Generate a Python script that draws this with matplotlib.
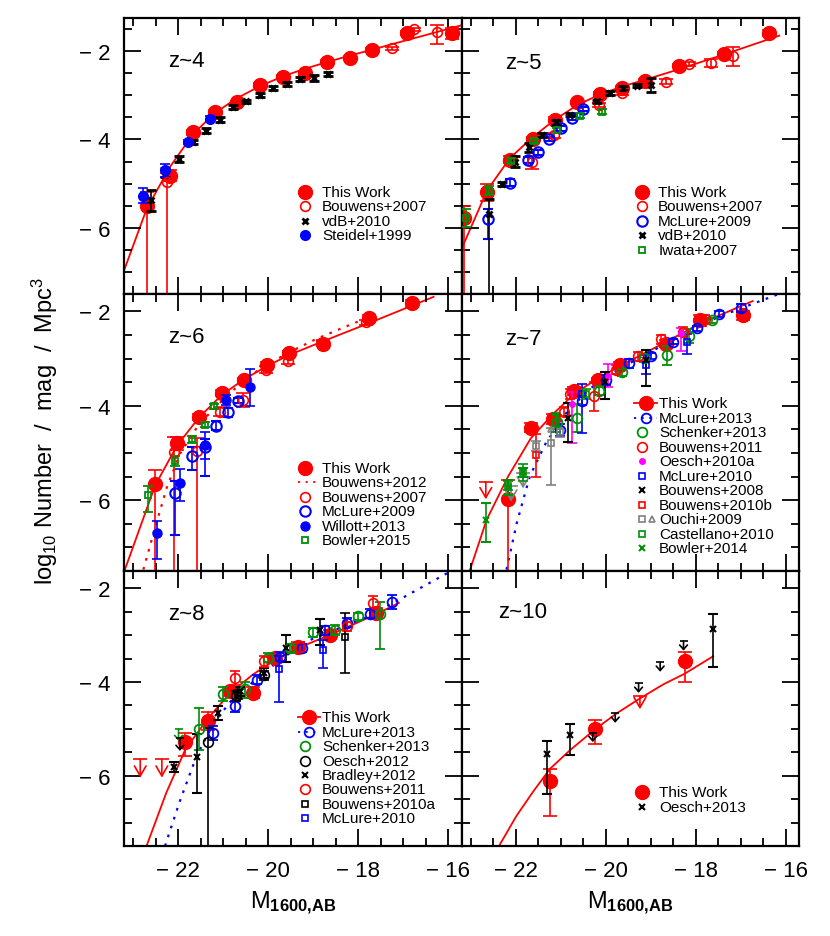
import matplotlib
matplotlib.use("Agg")
import matplotlib.pyplot as plt
from matplotlib.ticker import MultipleLocator, FuncFormatter

plt.rcParams['font.family'] = ['Liberation Sans', 'DejaVu Sans']
plt.rcParams['mathtext.fontset'] = 'custom'
plt.rcParams['mathtext.rm'] = 'Liberation Sans'
plt.rcParams['mathtext.it'] = 'Liberation Sans:italic'
plt.rcParams['mathtext.bf'] = 'Liberation Sans:bold'

# ---------------- z ~ 4 ----------------
z4_tw_m = [-22.70, -22.18, -21.66, -21.18, -20.70, -20.18, -19.67, -19.19, -18.70, -18.19, -17.70, -16.93, -15.93]
z4_tw_phi = [-5.50, -4.82, -3.84, -3.37, -3.16, -2.77, -2.59, -2.49, -2.25, -2.16, -1.97, -1.59, -1.60]
z4_tw_lo = [3.0, 0.12, 0.05, 0.04, 0.04, 0.04, 0.04, 0.04, 0.04, 0.04, 0.05, 0.05, 0.13]
z4_tw_hi = [0.3, 0.12, 0.05, 0.04, 0.04, 0.04, 0.04, 0.04, 0.04, 0.04, 0.05, 0.05, 0.13]
z4_b07_m = [-22.25, -17.25, -16.77, -16.25]
z4_b07_phi = [-4.97, -1.94, -1.51, -1.57]
z4_b07_lo = [3.0, 0.04, 0.03, 0.27]
z4_b07_hi = [0.2, 0.04, 0.03, 0.16]
z4_vdb_m = [-22.59, -22.29, -21.98, -21.66, -21.38, -21.08, -20.79, -20.49, -20.19, -19.90, -19.58, -19.29, -18.99, -18.68]
z4_vdb_phi = [-5.38, -4.74, -4.44, -4.06, -3.80, -3.55, -3.27, -3.14, -2.99, -2.84, -2.74, -2.63, -2.61, -2.52]
z4_vdb_err = [0.23, 0.1, 0.06, 0.05, 0.05, 0.05, 0.05, 0.04, 0.04, 0.04, 0.04, 0.05, 0.07, 0.05]
z4_s99_m = [-22.78, -22.29, -21.79, -21.29]
z4_s99_phi = [-5.27, -4.70, -4.06, -3.53]
z4_s99_err = [0.17, 0.15, 0.05, 0.05]
z4_fit_m = [-23.20, -22.70, -22.18, -21.66, -21.18, -20.70, -20.18, -19.67, -19.19, -18.70, -18.19, -17.70, -17.21, -16.70, -15.73]
z4_fit_phi = [-6.97, -5.58, -4.62, -3.87, -3.40, -3.07, -2.79, -2.57, -2.40, -2.25, -2.10, -1.97, -1.83, -1.69, -1.42]

# ---------------- z ~ 5 ----------------
z5_tw_m = [-23.16, -22.64, -22.13, -21.63, -21.13, -20.63, -20.13, -19.63, -19.13, -18.37, -17.38, -16.37]
z5_tw_phi = [-5.78, -5.19, -4.46, -3.99, -3.55, -3.16, -2.97, -2.84, -2.67, -2.33, -2.06, -1.59]
z5_tw_lo = [3.0, 0.2, 0.08, 0.05, 0.05, 0.04, 0.04, 0.04, 0.04, 0.04, 0.05, 0.07]
z5_tw_hi = [0.28, 0.17, 0.08, 0.05, 0.05, 0.04, 0.04, 0.04, 0.04, 0.04, 0.05, 0.07]
z5_b07_m = [-21.65, -21.16, -20.16, -19.65, -18.65, -18.15, -17.65, -17.17]
z5_b07_phi = [-4.50, -3.91, -3.22, -2.95, -2.69, -2.29, -2.27, -2.10]
z5_b07_lo = [0.17, 0.05, 0.05, 0.05, 0.05, 0.04, 0.1, 0.24]
z5_b07_hi = [0.13, 0.05, 0.05, 0.05, 0.05, 0.04, 0.1, 0.2]
z5_mc09_m = [-22.62, -22.13, -21.74, -21.50, -21.26, -21.00, -20.75, -20.50]
z5_mc09_phi = [-5.80, -4.98, -4.47, -4.29, -3.99, -3.75, -3.52, -3.31]
z5_mc09_lo = [0.45, 0.08, 0.07, 0.06, 0.05, 0.05, 0.05, 0.05]
z5_mc09_hi = [0.23, 0.08, 0.07, 0.06, 0.05, 0.05, 0.05, 0.05]
z5_vdb_m = [-22.61, -22.31, -22.01, -21.71, -21.41, -21.11, -20.80, -20.20, -19.91, -19.61, -19.30, -19.00]
z5_vdb_phi = [-5.68, -5.01, -4.50, -4.18, -3.90, -3.61, -3.44, -3.14, -2.95, -2.84, -2.78, -2.77]
z5_vdb_lo = [3.0, 0.05, 0.13, 0.1, 0.05, 0.06, 0.04, 0.04, 0.04, 0.04, 0.04, 0.15]
z5_vdb_hi = [0.33, 0.05, 0.13, 0.1, 0.05, 0.06, 0.04, 0.04, 0.04, 0.04, 0.04, 0.15]
z5_iw_m = [-23.11, -22.60, -22.11, -21.59, -21.09, -20.58, -20.09]
z5_iw_phi = [-5.78, -5.16, -4.48, -4.03, -3.78, -3.46, -3.37]
z5_iw_err = [0.2, 0.1, 0.05, 0.05, 0.05, 0.05, 0.05]
z5_fit_m = [-23.21, -22.64, -22.13, -21.63, -21.13, -20.63, -20.13, -19.63, -19.13, -18.37, -17.38, -16.14]
z5_fit_phi = [-6.48, -5.15, -4.42, -3.95, -3.55, -3.22, -2.98, -2.80, -2.65, -2.41, -2.08, -1.65]

# ---------------- z ~ 6 ----------------
z6_tw_m = [-22.51, -22.02, -21.53, -21.03, -20.54, -20.03, -19.53, -18.78, -17.77, -16.80]
z6_tw_phi = [-5.66, -4.79, -4.24, -3.73, -3.46, -3.13, -2.88, -2.68, -2.14, -1.83]
z6_tw_lo = [3.0, 0.15, 0.07, 0.06, 0.05, 0.05, 0.05, 0.05, 0.06, 0.07]
z6_tw_hi = [0.30, 0.13, 0.07, 0.06, 0.05, 0.05, 0.05, 0.05, 0.06, 0.07]
z6_b12_m = [-22.77, -22.51, -22.25, -21.96, -21.53, -21.01, -20.50, -19.98, -19.46, -18.95, -18.43, -17.92, -17.48]
z6_b12_phi = [-7.47, -6.58, -5.73, -5.02, -4.38, -3.88, -3.42, -3.10, -2.83, -2.59, -2.38, -2.18, -2.04]
z6_b07_m = [-22.08, -21.57, -21.07, -20.57, -20.06, -19.56, -18.78, -17.82]
z6_b07_phi = [-4.97, -4.96, -4.12, -3.87, -3.23, -3.04, -2.66, -2.23]
z6_b07_lo = [3.0, 3.0, 0.1, 0.15, 0.07, 0.07, 0.05, 0.05]
z6_b07_hi = [0.3, 0.28, 0.1, 0.15, 0.07, 0.07, 0.05, 0.05]
z6_mc09_m = [-22.06, -21.69, -21.41, -21.16, -20.90, -20.66]
z6_mc09_phi = [-5.85, -5.07, -4.88, -4.42, -4.14, -3.89]
z6_mc09_lo = [0.88, 0.28, 0.6, 0.1, 0.1, 0.06]
z6_mc09_hi = [0.26, 0.2, 0.18, 0.1, 0.1, 0.06]
z6_wil_m = [-22.46, -21.96, -21.41, -20.93, -20.41]
z6_wil_phi = [-6.69, -5.63, -4.83, -3.88, -3.61]
z6_wil_lo = [0.55, 0.38, 0.3, 0.1, 0.39]
z6_wil_hi = [0.26, 0.3, 0.28, 0.1, 0.39]
z6_bow_m = [-22.67, -22.06, -21.69, -21.41, -21.20]
z6_bow_phi = [-5.90, -5.17, -4.71, -4.40, -4.01]
z6_bow_lo = [0.36, 0.1, 0.08, 0.05, 0.05]
z6_bow_hi = [0.2, 0.1, 0.08, 0.05, 0.05]
z6_fit_m = [-23.18, -22.51, -22.03, -21.53, -21.03, -20.54, -20.03, -19.53, -18.78, -17.77, -16.33]
z6_fit_phi = [-7.47, -5.69, -4.85, -4.24, -3.77, -3.44, -3.16, -2.92, -2.63, -2.25, -1.69]

# ---------------- z ~ 7 ----------------
z7_tw_m = [-22.17, -21.67, -21.17, -20.70, -20.17, -19.69, -18.65, -17.91, -16.95]
z7_tw_phi = [-5.98, -4.46, -4.28, -3.68, -3.46, -3.13, -2.68, -2.19, -2.07]
z7_tw_lo = [3.0, 0.1, 0.1, 0.08, 0.06, 0.06, 0.08, 0.12, 0.12]
z7_tw_hi = [0.4, 0.1, 0.1, 0.08, 0.06, 0.06, 0.08, 0.12, 0.08]
z7_twlim_m = [-22.67]
z7_twlim_phi = [-5.61]
z7_fit_m = [-23.02, -22.65, -22.17, -21.67, -21.17, -20.67, -20.17, -19.67, -19.17, -18.69, -17.91, -16.73]
z7_fit_phi = [-7.47, -6.41, -5.49, -4.69, -4.17, -3.72, -3.42, -3.15, -2.90, -2.66, -2.26, -1.78]
z7_mc13_line_m = [-22.21, -21.98, -21.69, -21.33, -20.88, -20.36, -19.76, -19.02, -18.27, -17.53, -16.79, -16.12]
z7_mc13_line_phi = [-7.47, -6.48, -5.49, -4.78, -4.15, -3.64, -3.25, -2.86, -2.50, -2.13, -1.86, -1.62]
z7_mc13_m = [-21.01, -20.52, -19.99, -19.49, -18.99, -18.50, -17.98, -17.48, -16.99]
z7_mc13_phi = [-4.51, -3.89, -3.45, -3.10, -2.94, -2.64, -2.36, -2.05, -1.93]
z7_mc13_err = [0.12, 0.1, 0.1, 0.1, 0.06, 0.06, 0.06, 0.06, 0.08]
z7_sch_m = [-21.09, -20.64, -20.14, -19.64, -19.14, -18.64, -18.15, -17.64]
z7_sch_phi = [-4.35, -4.26, -3.68, -3.29, -2.99, -2.93, -2.52, -2.19]
z7_sch_err = [0.15, 0.3, 0.1, 0.08, 0.08, 0.2, 0.15, 0.06]
z7_b11_m = [-20.92, -20.79, -20.27, -19.77, -19.29, -18.78, -18.29, -17.79]
z7_b11_phi = [-4.12, -3.75, -3.80, -3.23, -2.95, -2.59, -2.43, -2.17]
z7_b11_err = [0.1, 0.1, 0.3, 0.1, 0.1, 0.1, 0.1, 0.1]
z7_oe10_m = [-20.76, -19.95, -18.33]
z7_oe10_phi = [-3.96, -3.36, -2.45]
z7_oe10_lo = [0.83, 0.25, 0.39]
z7_oe10_hi = [0.25, 0.25, 0.11]
z7_mc10_m = [-20.52, -19.10, -18.19]
z7_mc10_phi = [-3.75, -3.13, -2.65]
z7_mc10_lo = [0.83, 0.2, 0.25]
z7_mc10_hi = [0.21, 0.2, 0.18]
z7_b08_m = [-20.84, -20.02, -19.10]
z7_b08_phi = [-4.26, -3.50, -3.02]
z7_b08_lo = [0.5, 0.36, 0.57]
z7_b08_hi = [0.32, 0.21, 0.21]
z7_b10b_m = [-21.56]
z7_b10b_phi = [-5.05]
z7_b10b_err = [0.45]
z7_ou_m = [-21.56, -21.21, -21.01]
z7_ou_phi = [-4.85, -4.78, -4.56]
z7_ou_lo = [0.1, 0.9, 0.1]
z7_ou_hi = [0.1, 0.31, 0.1]
z7_outri_m = [-21.21]
z7_outri_phi = [-4.50]
z7_oulim_m = [-22.11, -21.84]
z7_oulim_phi = [-5.70, -5.42]
z7_cas_m = [-22.17, -21.84, -21.10, -20.44]
z7_cas_phi = [-5.69, -5.41, -4.36, -3.75]
z7_cas_err = [0.1, 0.18, 0.2, 0.1]
z7_bow_m = [-22.67, -22.17, -21.84]
z7_bow_phi = [-6.41, -5.73, -5.41]
z7_bow_lo = [0.47, 0.15, 0.1]
z7_bow_hi = [0.35, 0.15, 0.1]

# ---------------- z ~ 8 ----------------
z8_tw_m = [-21.84, -21.34, -20.84, -20.34, -19.84, -19.33, -18.62, -17.60]
z8_tw_phi = [-5.28, -4.83, -4.20, -4.23, -3.49, -3.25, -2.99, -2.53]
z8_tw_lo = [0.3, 0.2, 0.1, 0.12, 0.1, 0.1, 0.1, 0.12]
z8_tw_hi = [0.2, 0.2, 0.1, 0.12, 0.1, 0.1, 0.1, 0.12]
z8_twlim_m = [-22.84, -22.36]
z8_twlim_phi = [-5.65, -5.65]
z8_fit_m = [-22.70, -22.26, -21.84, -21.34, -20.84, -20.34, -19.84, -19.33, -18.62, -17.60, -17.10]
z8_fit_phi = [-7.50, -6.36, -5.44, -4.78, -4.23, -3.84, -3.52, -3.27, -2.99, -2.55, -2.31]
z8_mc13_line_m = [-22.29, -21.96, -21.59, -21.21, -20.77, -20.25, -19.73, -19.14, -18.55, -17.81, -17.07, -15.96]
z8_mc13_line_phi = [-7.50, -6.54, -5.58, -4.87, -4.34, -3.93, -3.52, -3.13, -2.90, -2.61, -2.23, -1.64]
z8_mc13_m = [-21.23, -20.73, -20.25, -19.73, -19.25, -18.73, -18.25, -17.75, -17.26]
z8_mc13_phi = [-5.08, -4.52, -3.95, -3.46, -3.27, -2.90, -2.73, -2.54, -2.29]
z8_mc13_err = [0.15, 0.12, 0.1, 0.1, 0.08, 0.1, 0.1, 0.1, 0.15]
z8_sch_m = [-21.53, -21.01, -20.51, -20.01, -19.51, -19.01, -18.51, -18.01, -17.52]
z8_sch_phi = [-5.00, -4.25, -4.14, -3.48, -3.28, -2.94, -2.89, -2.60, -2.54]
z8_sch_lo = [0.45, 0.15, 0.2, 0.1, 0.1, 0.1, 0.1, 0.08, 0.75]
z8_sch_hi = [0.45, 0.15, 0.15, 0.1, 0.1, 0.1, 0.1, 0.08, 0.25]
z8_schlim_m = [-21.99]
z8_schlim_phi = [-5.00]
z8_oe12_m = [-21.34, -20.71, -20.10]
z8_oe12_phi = [-5.28, -4.30, -3.86]
z8_oe12_lo = [3.0, 0.1, 0.1]
z8_oe12_hi = [0.3, 0.1, 0.1]
z8_bra_m = [-22.10, -21.59, -21.11, -20.63, -20.09, -19.60, -18.86]
z8_bra_phi = [-5.81, -5.61, -4.67, -4.20, -3.81, -3.28, -2.90]
z8_bra_lo = [0.1, 0.75, 0.15, 0.1, 0.1, 0.3, 0.3]
z8_bra_hi = [0.1, 0.5, 0.15, 0.1, 0.1, 0.28, 0.25]
z8_bralim_m = [-21.96]
z8_bralim_phi = [-5.20]
z8_b11_m = [-20.73, -20.10, -19.29, -18.26, -17.67]
z8_b11_phi = [-3.91, -3.56, -3.25, -2.81, -2.32]
z8_b11_err = [0.15, 0.12, 0.1, 0.1, 0.15]
z8_b10a_m = [-20.68, -18.30]
z8_b10a_phi = [-4.27, -3.03]
z8_b10a_lo = [0.1, 0.78]
z8_b10a_hi = [0.1, 0.51]
z8_mc10_m = [-19.77, -18.79]
z8_mc10_phi = [-3.72, -3.32]
z8_mc10_lo = [0.71, 0.38]
z8_mc10_hi = [0.27, 0.22]

# ---------------- z ~ 10 ----------------
z10_tw_m = [-21.24, -20.24, -18.24]
z10_tw_phi = [-6.11, -5.00, -3.56]
z10_tw_lo = [0.76, 0.33, 0.44]
z10_tw_hi = [0.26, 0.19, 0.21]
z10_twlim_m = [-19.24]
z10_twlim_phi = [-4.30]
z10_fit_m = [-22.37, -21.99, -21.61, -21.24, -20.79, -20.24, -19.76, -19.24, -18.72, -18.24, -17.61]
z10_fit_phi = [-7.49, -6.86, -6.33, -5.85, -5.45, -5.01, -4.67, -4.35, -4.05, -3.82, -3.45]
z10_oe13_m = [-21.30, -20.79, -17.62]
z10_oe13_phi = [-5.54, -5.14, -2.87]
z10_oe13_lo = [0.85, 0.42, 0.81]
z10_oe13_hi = [0.28, 0.24, 0.32]
z10_oelim_m = [-20.29, -19.79, -19.27, -18.79, -18.27]
z10_oelim_phi = [-5.08, -4.67, -4.03, -3.58, -3.13]

RED = '#ff0000'
BLUE = '#0000ff'
GREEN = '#00900a'
GREY = '#808080'
MAG = '#ff00ff'
DOT = (0, (1.2, 3))

st_tw = dict(marker='o', ms=10, color=RED)
st_b07 = dict(marker='o', ms=7, color=RED, mfc='none', mew=1.2)
st_vdb = dict(marker='x', ms=4.5, color='k', mew=2)
st_s99 = dict(marker='o', ms=7, color=BLUE)
st_mc09 = dict(marker='o', ms=7.5, color=BLUE, mfc='none', mew=1.5)
st_iw = dict(marker='s', ms=5, color=GREEN, mfc='none', mew=1.3)
st_wil = dict(marker='o', ms=6.5, color=BLUE)
st_mc13 = dict(marker='o', ms=7, color=BLUE, mfc='none', mew=1.3)
st_sch = dict(marker='o', ms=7, color=GREEN, mfc='none', mew=1.3)
st_oe10 = dict(marker='o', ms=4, color=MAG)
st_mc10 = dict(marker='s', ms=4.5, color=BLUE, mfc='none', mew=1.2)
st_b08 = dict(marker='x', ms=4, color='k', mew=1.5)
st_b10b = dict(marker='s', ms=4.5, color=RED, mfc='none', mew=1.2)
st_ou = dict(marker='s', ms=4.5, color=GREY, mfc='none', mew=1.2)
st_outri = dict(marker='^', ms=4.5, color=GREY, mfc='none', mew=1.2)
st_cas = dict(marker='s', ms=4.5, color=GREEN, mfc='none', mew=1.2)
st_bow14 = dict(marker='x', ms=4, color=GREEN, mew=1.5)
st_oe12 = dict(marker='o', ms=7, color='k', mfc='none', mew=1.2)
st_bra = dict(marker='x', ms=4, color='k', mew=1.5)
st_b10a = dict(marker='s', ms=4.5, color='k', mfc='none', mew=1.2)
st_oe13 = dict(marker='x', ms=5, color='k', mew=1.5)


def pts(ax, m, phi, lo, hi, st, cap=3.5, z=3):
    ax.errorbar(m, phi, yerr=[lo, hi], ls='none', capsize=cap, elinewidth=1.2,
                capthick=1.2, zorder=z, **st)


def ulim(ax, m, top, length, color, big=True):
    if big:
        ms, arrow = 10, '->,head_length=0.6,head_width=0.35'
        scale = 12
    else:
        ms, arrow = 6, '->,head_length=0.45,head_width=0.4'
        scale = 7
    for x, y in zip(m, top):
        ax.annotate('', xy=(x, y - length), xytext=(x, y),
                    arrowprops=dict(arrowstyle=arrow, color=color, lw=1.2, shrinkA=0,
                                    shrinkB=0, mutation_scale=scale), zorder=3)
        ax.plot([x], [y], marker='_', ms=ms, mew=1.2, color=color, zorder=3)


def key(ax, xm, xt, y0, dy, rows):
    tr = ax.transAxes
    for i, (label, marks, line) in enumerate(rows):
        y = y0 - i * dy
        if line is not None:
            ax.plot([xm - 0.022, xm + 0.045], [y, y], ls=line[0], color=line[1], lw=1.3,
                    transform=tr, clip_on=False)
            marks = [(0.012, s) for _, s in marks]
        for dx, st in marks:
            ax.plot([xm + dx], [y], ls='none', transform=tr, clip_on=False, **st)
        ax.text(xt, y, label, transform=tr, va='center', ha='left', fontsize=11)


def minus_fmt(v, pos):
    return '\u2212 %g' % abs(v) if v < 0 else '%g' % v


W, H = 830, 937
cols = [(124, 462), (462, 799)]
rows = [(19, 295), (295, 572), (572, 847)]
ytops = [-1.25, -1.63, -1.63]

fig = plt.figure(figsize=(W / 100, H / 100), dpi=100)
axes = {}
for r, (y0, y1) in enumerate(rows):
    for c, (x0, x1) in enumerate(cols):
        ax = fig.add_axes([x0 / W, 1 - y1 / H, (x1 - x0) / W, (y1 - y0) / H])
        ax.set_xlim(-23.2, -15.7)
        ax.set_ylim(-7.5, ytops[r])
        ax.xaxis.set_major_locator(MultipleLocator(2))
        ax.xaxis.set_minor_locator(MultipleLocator(0.5))
        ax.yaxis.set_major_locator(MultipleLocator(2))
        ax.yaxis.set_minor_locator(MultipleLocator(0.5))
        ax.tick_params(which='both', direction='in', top=True, right=True, width=1.3,
                       labelsize=16, pad=10)
        ax.tick_params(which='major', length=12)
        ax.tick_params(which='minor', length=6)
        ax.xaxis.set_major_formatter(FuncFormatter(minus_fmt))
        ax.yaxis.set_major_formatter(FuncFormatter(minus_fmt))
        if c == 1:
            ax.tick_params(labelleft=False)
        if r < 2:
            ax.tick_params(labelbottom=False)
        for s in ax.spines.values():
            s.set_linewidth(1.6)
        axes[(r, c)] = ax

# z ~ 4
ax = axes[(0, 0)]
ax.plot(z4_fit_m, z4_fit_phi, color=RED, lw=1.3, zorder=1)
pts(ax, z4_tw_m, z4_tw_phi, z4_tw_lo, z4_tw_hi, st_tw, cap=5, z=2)
pts(ax, z4_b07_m, z4_b07_phi, z4_b07_lo, z4_b07_hi, st_b07, cap=5)
pts(ax, z4_vdb_m, z4_vdb_phi, z4_vdb_err, z4_vdb_err, st_vdb)
pts(ax, z4_s99_m, z4_s99_phi, z4_s99_err, z4_s99_err, st_s99)
ax.text(0.13, 0.845, 'z~4', transform=ax.transAxes, fontsize=16, va='center')
key(ax, 0.536, 0.586, 0.370, 0.0525, [
    ('This Work', [(0, st_tw)], None),
    ('Bouwens+2007', [(0, st_b07)], None),
    ('vdB+2010', [(0, st_vdb)], None),
    ('Steidel+1999', [(0, st_s99)], None)])

# z ~ 5
ax = axes[(0, 1)]
ax.plot(z5_fit_m, z5_fit_phi, color=RED, lw=1.3, zorder=1)
pts(ax, z5_tw_m, z5_tw_phi, z5_tw_lo, z5_tw_hi, st_tw, cap=5, z=2)
pts(ax, z5_b07_m, z5_b07_phi, z5_b07_lo, z5_b07_hi, st_b07, cap=5)
pts(ax, z5_mc09_m, z5_mc09_phi, z5_mc09_lo, z5_mc09_hi, st_mc09)
pts(ax, z5_vdb_m, z5_vdb_phi, z5_vdb_lo, z5_vdb_hi, st_vdb)
pts(ax, z5_iw_m, z5_iw_phi, z5_iw_err, z5_iw_err, st_iw)
ax.text(0.128, 0.84, 'z~5', transform=ax.transAxes, fontsize=16, va='center')
key(ax, 0.533, 0.582, 0.370, 0.0525, [
    ('This Work', [(0, st_tw)], None),
    ('Bouwens+2007', [(0, st_b07)], None),
    ('McLure+2009', [(0, st_mc09)], None),
    ('vdB+2010', [(0, st_vdb)], None),
    ('Iwata+2007', [(0, st_iw)], None)])

# z ~ 6
ax = axes[(1, 0)]
ax.plot(z6_fit_m, z6_fit_phi, color=RED, lw=1.3, zorder=1)
ax.plot(z6_b12_m, z6_b12_phi, color=RED, lw=1.6, ls=DOT, zorder=1)
pts(ax, z6_tw_m, z6_tw_phi, z6_tw_lo, z6_tw_hi, st_tw, cap=5, z=2)
pts(ax, z6_b07_m, z6_b07_phi, z6_b07_lo, z6_b07_hi, st_b07, cap=5)
pts(ax, z6_mc09_m, z6_mc09_phi, z6_mc09_lo, z6_mc09_hi, st_mc09)
pts(ax, z6_wil_m, z6_wil_phi, z6_wil_lo, z6_wil_hi, st_wil)
pts(ax, z6_bow_m, z6_bow_phi, z6_bow_lo, z6_bow_hi, st_iw)
ax.text(0.13, 0.845, 'z~6', transform=ax.transAxes, fontsize=16, va='center')
key(ax, 0.536, 0.586, 0.372, 0.0523, [
    ('This Work', [(0, st_tw)], None),
    ('Bouwens+2012', [], (DOT, RED)),
    ('Bouwens+2007', [(0, st_b07)], None),
    ('McLure+2009', [(0, st_mc09)], None),
    ('Willott+2013', [(0, st_wil)], None),
    ('Bowler+2015', [(0, st_iw)], None)])

# z ~ 7
ax = axes[(1, 1)]
ax.plot(z7_fit_m, z7_fit_phi, color=RED, lw=1.3, zorder=1)
ax.plot(z7_mc13_line_m, z7_mc13_line_phi, color=BLUE, lw=1.6, ls=DOT, zorder=1)
pts(ax, z7_tw_m, z7_tw_phi, z7_tw_lo, z7_tw_hi, st_tw, cap=5, z=2)
ulim(ax, z7_twlim_m, z7_twlim_phi, 0.37, RED)
pts(ax, z7_mc13_m, z7_mc13_phi, z7_mc13_err, z7_mc13_err, st_mc13)
pts(ax, z7_sch_m, z7_sch_phi, z7_sch_err, z7_sch_err, st_sch)
pts(ax, z7_b11_m, z7_b11_phi, z7_b11_err, z7_b11_err, st_b07)
pts(ax, z7_oe10_m, z7_oe10_phi, z7_oe10_lo, z7_oe10_hi, st_oe10)
pts(ax, z7_mc10_m, z7_mc10_phi, z7_mc10_lo, z7_mc10_hi, st_mc10)
pts(ax, z7_b08_m, z7_b08_phi, z7_b08_lo, z7_b08_hi, st_b08)
pts(ax, z7_b10b_m, z7_b10b_phi, z7_b10b_err, z7_b10b_err, st_b10b)
pts(ax, z7_ou_m, z7_ou_phi, z7_ou_lo, z7_ou_hi, st_ou)
ax.plot(z7_outri_m, z7_outri_phi, ls='none', zorder=3, **st_outri)
ulim(ax, z7_oulim_m, z7_oulim_phi, 0.33, GREY)
pts(ax, z7_cas_m, z7_cas_phi, z7_cas_err, z7_cas_err, st_cas)
pts(ax, z7_bow_m, z7_bow_phi, z7_bow_lo, z7_bow_hi, st_bow14)
ax.text(0.128, 0.838, 'z~7', transform=ax.transAxes, fontsize=16, va='center')
key(ax, 0.533, 0.585, 0.606, 0.0523, [
    ('This Work', [(0, st_tw)], ('-', RED)),
    ('McLure+2013', [(0, st_mc13)], (DOT, BLUE)),
    ('Schenker+2013', [(0, st_sch)], None),
    ('Bouwens+2011', [(0, st_b07)], None),
    ('Oesch+2010a', [(0, st_oe10)], None),
    ('McLure+2010', [(0, st_mc10)], None),
    ('Bouwens+2008', [(0, st_b08)], None),
    ('Bouwens+2010b', [(0, st_b10b)], None),
    ('Ouchi+2009', [(0, st_ou), (0.03, st_outri)], None),
    ('Castellano+2010', [(0, st_cas)], None),
    ('Bowler+2014', [(0, st_bow14)], None)])

# z ~ 8
ax = axes[(2, 0)]
ax.plot(z8_fit_m, z8_fit_phi, color=RED, lw=1.3, zorder=1)
ax.plot(z8_mc13_line_m, z8_mc13_line_phi, color=BLUE, lw=1.6, ls=DOT, zorder=1)
pts(ax, z8_tw_m, z8_tw_phi, z8_tw_lo, z8_tw_hi, st_tw, cap=5, z=2)
ulim(ax, z8_twlim_m, z8_twlim_phi, 0.39, RED)
pts(ax, z8_mc13_m, z8_mc13_phi, z8_mc13_err, z8_mc13_err, st_mc13)
pts(ax, z8_sch_m, z8_sch_phi, z8_sch_lo, z8_sch_hi, st_sch)
ulim(ax, z8_schlim_m, z8_schlim_phi, 0.26, GREEN, big=False)
pts(ax, z8_oe12_m, z8_oe12_phi, z8_oe12_lo, z8_oe12_hi, st_oe12)
pts(ax, z8_bra_m, z8_bra_phi, z8_bra_lo, z8_bra_hi, st_bra)
ulim(ax, z8_bralim_m, z8_bralim_phi, 0.27, 'k', big=False)
pts(ax, z8_b11_m, z8_b11_phi, z8_b11_err, z8_b11_err, st_b07)
pts(ax, z8_b10a_m, z8_b10a_phi, z8_b10a_lo, z8_b10a_hi, st_b10a)
pts(ax, z8_mc10_m, z8_mc10_phi, z8_mc10_lo, z8_mc10_hi, st_mc10)
ax.text(0.13, 0.847, 'z~8', transform=ax.transAxes, fontsize=16, va='center')
key(ax, 0.536, 0.586, 0.469, 0.0527, [
    ('This Work', [(0, st_tw)], ('-', RED)),
    ('McLure+2013', [(0, st_mc13)], (DOT, BLUE)),
    ('Schenker+2013', [(0, st_sch)], None),
    ('Oesch+2012', [(0, st_oe12)], None),
    ('Bradley+2012', [(0, st_bra)], None),
    ('Bouwens+2011', [(0, st_b07)], None),
    ('Bouwens+2010a', [(0, st_b10a)], None),
    ('McLure+2010', [(0, st_mc10)], None)])

# z ~ 10
ax = axes[(2, 1)]
ax.plot(z10_fit_m, z10_fit_phi, color=RED, lw=1.3, zorder=1)
pts(ax, z10_tw_m, z10_tw_phi, z10_tw_lo, z10_tw_hi, st_tw, cap=5, z=2)
ulim(ax, z10_twlim_m, z10_twlim_phi, 0.28, RED)
pts(ax, z10_oe13_m, z10_oe13_phi, z10_oe13_lo, z10_oe13_hi, st_oe13)
ulim(ax, z10_oelim_m, z10_oelim_phi, 0.2, 'k', big=False)
ax.text(0.107, 0.851, 'z~10', transform=ax.transAxes, fontsize=16, va='center')
key(ax, 0.534, 0.585, 0.196, 0.0527, [
    ('This Work', [(0, st_tw)], None),
    ('Oesch+2013', [(0, st_oe13)], None)])

fig.text(0.054, 0.54, r'log$_{10}$ Number  /  mag  /  Mpc$^3$', rotation=90,
         ha='center', va='center', fontsize=17)
for (x0, x1) in cols:
    fig.text((x0 + x1) / 2 / W, 0.036, r'M$_{\bf 1600{,}AB}$', ha='center', va='center',
             fontsize=17)

fig.savefig('out.png', dpi=100)
